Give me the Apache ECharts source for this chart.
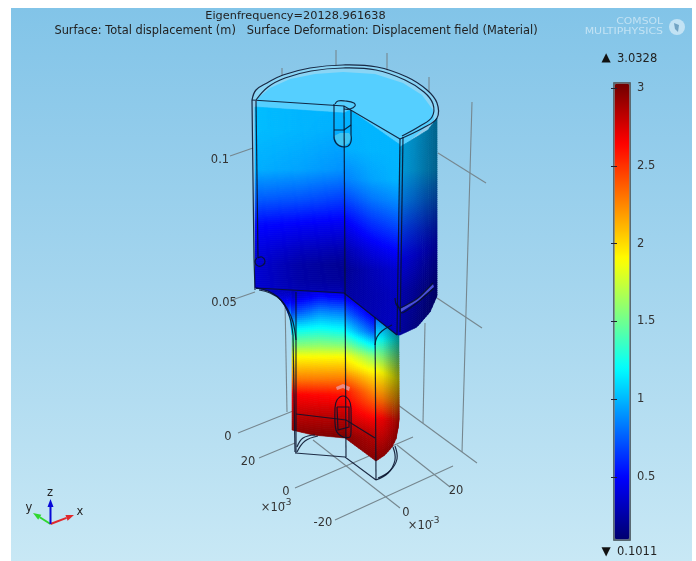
<!DOCTYPE html>
<html><head><meta charset="utf-8">
<script src="https://cdn.jsdelivr.net/npm/echarts@6/dist/echarts.min.js"></script>
<style>html,body{margin:0;padding:0;background:#fff}#c{width:696px;height:561px;filter:blur(0.45px)}</style></head>
<body><div id="c"></div>
<script>
const FONT='"DejaVu Sans"';
const titleLines=['Eigenfrequency=20128.961638','Surface: Total displacement (m)   Surface Deformation: Displacement field (Material)'];
const scaleMin=0.1011, scaleMax=3.0328;
const scaleTicks=[0.5,1,1.5,2,2.5,3];
const rampStops=[[0.1011,'#00006e'],[0.5,'#0000ff'],[1.2,'#00ffff'],[1.9,'#ffff00'],[2.65,'#ff0000'],[3.0328,'#700000']];

// grey 3D box lines
const boxLines=[
 [[230,156],[253,148]],[[232,300],[255,292]],
 [[282,68],[282,78]],[[336,50],[336,72]],[[387,53],[387,72]],[[429,77],[429,92]],
 [[472,102],[462,452]],[[425,323],[423,423]],
 [[438,153],[486,183]],[[437,298],[482,328]],[[398,405],[477,463]],
 [[285,300],[287,412]],
 [[238,433],[293,411]],[[259,458],[295,443]],[[295,488],[413,437]],[[335,520],[453,466]],
 [[313,440],[400,508]],[[397,445],[450,487]]
];
// coloured faces: outline from above and below, displacement read at xs / ys
const faces=[
 {name:'fillet',x:[256,292],top:[[256,288],[292,290]],bottom:[[256,288],[268,291],[278,297],[285,306],[290,318],[292,335]],
  xs:[256,292],ys:[289,297,313,330,345],vals:[[.3,.36,.6,1.1,1.5],[.3,.38,.7,1.2,1.55]],shade:[[256,1],[292,1]]},
 {name:'lowerLeft',x:[292,345],top:[[292,290],[345,293]],bottom:[[292,430],[313,435],[345,438]],
  xs:[292,320,345],ys:[289,297,313,330,345,357,380,395,415,438],
  vals:[[.3,.38,.7,1.2,1.55,1.9,2.3,2.65,2.82,3.0],[.4,.52,.9,1.25,1.58,1.9,2.3,2.63,2.82,3.0],[.35,.48,.85,1.2,1.55,1.9,2.3,2.6,2.82,3.0]],shade:[[292,.92],[298,1],[345,1]]},
 {name:'lowerRight',x:[345,376],top:[[345,293],[376,318]],bottom:[[345,438],[376,461]],
  xs:[345,376],ys:[293,315,332,347,357,370,378,392,423,438,461],
  vals:[[.35,.82,1.2,1.6,1.9,2.1,2.3,2.6,2.82,2.98,3.0],[.25,.4,.7,1.2,1.55,1.85,2.0,2.22,2.7,2.85,2.98]],shade:[[345,1],[376,1]]},
 {name:'lowerSide',x:[376,399],top:[[376,315],[399,335]],bottom:[[376,461],[385,455],[392,447],[397,437],[399,420]],
  xs:[376,399],ys:[315,337,373,400,420,460],vals:[[.7,1.15,1.95,2.35,2.7,2.98],[.9,1.15,1.8,2.2,2.6,2.9]],shade:[[376,1],[383,.92],[399,.55]]},
 {name:'upperLeft',x:[255,344],top:[[255,107],[344,113]],bottom:[[255,288],[344,293]],
  xs:[255,300,344],ys:[105,130,170,200,225,250,265,280,295],
  vals:[[1.02,1.02,.98,.75,.52,.42,.38,.38,.38],[1.0,1.0,.95,.72,.48,.33,.26,.26,.3],[1.0,.98,.9,.66,.45,.28,.2,.22,.3]],shade:[[255,1],[344,1]]},
 {name:'upperRight',x:[344,400],top:[[344,113],[350,110],[403,147]],bottom:[[344,293],[397,335],[400,335]],
  xs:[344,372,400],ys:[110,150,180,200,225,250,270,295,335],
  vals:[[1.0,.98,.85,.68,.45,.28,.2,.24,.3],[1.0,1.0,.95,.82,.62,.42,.3,.28,.3],[1.0,1.0,1.0,.9,.72,.52,.38,.33,.33]],shade:[[344,1],[400,1]]},
 {name:'side',x:[400,437],top:[[400,147],[415,138],[428,130],[437,118]],bottom:[[400,335],[417,327],[430,312],[437,296]],
  xs:[400,437],ys:[118,170,200,230,260,290,335],vals:[[1.02,1.0,.88,.68,.5,.36,.3],[1.0,.98,.78,.58,.42,.3,.22]],shade:[[400,.85],[415,.75],[437,.55]]}
];
// flat fills behind / above the coloured faces
const rimFill=[[252,100],[256,90],[267,83],[283,75],[310,68],[343,65],[377,67],[407,77],[427,90],[437,103],[437,118],[423,128],[400,139],[344,106]];
const topFill=[[255,107],[258,98],[270,88],[290,79],[315,74],[343,72],[375,74],[403,83],[422,95],[433,110],[434,120],[422,130],[403,147],[350,110],[344,113]];
const detailFills=[
 {pts:[[334,136],[340,133],[349,133],[351,136],[349,143],[344,146],[338,145]],fill:'#3fc4f2'},
 {pts:[[336,387],[343,384],[350,387],[349,391],[343,388],[337,390]],fill:'#f08a80'},
 {pts:[[400,309],[418,298],[433,284],[434,287],[418,301],[401,312]],fill:'#4a50d8'}
];
// black mesh edges
const wires=[
 {p:[[252,100],[256,90],[267,83],[283,75],[310,68],[343,65],[377,67],[407,77],[427,90],[437,103],[437,118],[423,128],[400,139]],s:.4},
 {p:[[256,100],[268,87],[285,78],[311,71],[343,68],[376,70],[405,80],[424,92],[433,104],[432,117],[420,126],[402,136]],s:.4},
 {p:[[252,100],[344,106],[400,139]]},
 {p:[[252,100],[254,258],[255,290]]},{p:[[256,101],[258,258]]},
 {p:[[344,106],[346,457]]},
 {p:[[335,104],[338,101],[345,101],[354,103],[355,106],[350,109],[344,109]],s:.4},
 {p:[[334,104],[334,135]]},{p:[[351,110],[351,135]]},
 {p:[[334,135],[336,143],[344,147],[350,144],[351,135]],s:.5},
 {p:[[334,130],[344,130],[351,125]]},
 {p:[[400,139],[397,335]]},{p:[[403,137],[400,332]]},
 {p:[[256,288],[344,293],[397,335]]},
 {p:[[257,258],[255,262],[258,266],[263,265],[265,261],[262,257],[258,258]],s:.5},
 {p:[[395,298],[396,304],[400,308],[418,298],[433,283]],s:.2},
 {p:[[397,303],[402,313],[418,302],[434,288]],s:.2},
 {p:[[256,288],[268,291],[278,297],[285,306],[290,318],[293,335]],s:.4},
 {p:[[259,290],[270,293],[281,300],[288,310],[293,322],[296,340]],s:.4},
 {p:[[296,292],[296,453]]},{p:[[293,335],[295,452]]},
 {p:[[375,317],[376,480]]},
 {p:[[375,345],[377,337],[382,331],[392,325]],s:.4},
 {p:[[296,414],[346,420],[375,438]]},
 {p:[[295,453],[345,457],[376,480]]},
 {p:[[376,480],[388,473],[395,460],[393,447]],s:.4},{p:[[378,478],[390,471],[397,459],[395,446]],s:.4},
 {p:[[297,447],[303,438],[315,435]],s:.4},{p:[[297,452],[305,441],[318,436]],s:.4},
 {p:[[335,408],[337,400],[343,396],[349,400],[351,408]],s:.4},
 {p:[[335,408],[336,430],[343,437],[350,437],[351,432],[351,408]],s:.3},
 {p:[[337,407],[349,407],[349,427],[338,430],[337,407]]}
];
// triad
const triadOrigin=[50.5,524];
const triadAxes=[{tip:[33,513],color:'#2fd82f'},{tip:[74,515],color:'#e0282c'},{tip:[50.5,499],color:'#0808d8'}];
// all text: x, y, string, size, colour, anchor, horizontal stretch
const texts=[
 [295.5,16,titleLines[0],11.3,'#222','center',1],
 [296,31,titleLines[1],11.4,'#222','center',1],
 [220,160,'0.1',11.5,'#333','center',1],[224,303,'0.05',11.5,'#333','center',1],
 [228,437,'0',11.5,'#333','center',1],[248,462,'20',11.5,'#333','center',1],
 [286,492,'0',11.5,'#333','center',1],[273,508,'×10',11.5,'#333','center',1],[287,503,'-3',9,'#333','center',1],
 [456,491,'20',11.5,'#333','center',1],[323,523,'-20',11.5,'#333','center',1],
 [406,513,'0',11.5,'#333','center',1],[420,526,'×10',11.5,'#333','center',1],[435,521,'-3',9,'#333','center',1],
 [50,493,'z',11.5,'#222','center',1],[80,512,'x',11.5,'#222','center',1],[29,508,'y',11.5,'#222','center',1],
 [606,58,'▲',12,'#111','center',1],[617,59,'3.0328',11.5,'#222','left',1],
 [606,552,'▼',12,'#111','center',1],[617,552,'0.1011',11.5,'#222','left',1],
 [663,22,'COMSOL',8,'rgba(255,255,255,0.5)','right',1.35],[663,32,'MULTIPHYSICS',8,'rgba(255,255,255,0.5)','right',1.37]
];

const hex=c=>[1,3,5].map(i=>parseInt(c.substr(i,2),16));
function rampColor(v){
 for(let i=1;i<rampStops.length;i++){ if(v<=rampStops[i][0]){
  const a=rampStops[i-1],b=rampStops[i],t=(v-a[0])/(b[0]-a[0]),A=hex(a[1]),B=hex(b[1]);
  return 'rgb('+A.map((q,k)=>Math.round(q+(B[k]-q)*t)).join(',')+')';}}
 return rampStops[rampStops.length-1][1];
}
const ramp=[];for(let i=0;i<=60;i++)ramp.push(rampColor(scaleMin+(scaleMax-scaleMin)*i/60));
function along(line,x){
 if(x<=line[0][0])return line[0][1];
 for(let i=1;i<line.length;i++) if(x<=line[i][0]){const a=line[i-1],b=line[i];return a[1]+(b[1]-a[1])*(x-a[0])/((b[0]-a[0])||1);}
 return line[line.length-1][1];
}
function cell(arr,v){let i=0;while(i<arr.length-2&&v>arr[i+1])i++;return [i,Math.max(0,Math.min(1,(v-arr[i])/(arr[i+1]-arr[i])))];}
function fieldAt(f,x,y){
 const [i,s]=cell(f.xs,x),[j,t]=cell(f.ys,y),a=f.vals[i],b=f.vals[i+1];
 return (a[j]*(1-t)+a[j+1]*t)*(1-s)+(b[j]*(1-t)+b[j+1]*t)*s;
}
// shading cells that carry each face's table to the library's visual map
const meshCells=[];
faces.forEach(f=>{
 for(let x=f.x[0];x<f.x[1];x+=2){
  const x2=Math.min(x+2,f.x[1]),tA=along(f.top,x),bA=along(f.bottom,x),tB=along(f.top,x2),bB=along(f.bottom,x2);
  const n=Math.max(1,Math.ceil(Math.max(bA-tA,bB-tB)/2));
  for(let r=0;r<n;r++){
   const u=r/n,w=(r+1)/n,ym=(tA+tB)/2+((bA+bB)/2-(tA+tB)/2)*(u+w)/2;
   meshCells.push([x,x2,tA+(bA-tA)*u,tA+(bA-tA)*w,tB+(bB-tB)*u,tB+(bB-tB)*w,
     Math.max(scaleMin,Math.min(scaleMax,fieldAt(f,(x+x2)/2,ym))),along(f.shade,(x+x2)/2)]);
  }
 }
});

const chart=echarts.init(document.getElementById('c'),null,{renderer:'canvas'});
const P=(api,p)=>api.coord(p);
function polyFill(pts,fill,api,extra){return Object.assign({type:'polygon',shape:{points:pts.map(p=>P(api,p))},style:{fill:fill,stroke:null}},extra||{});}
const idx=a=>a.map((_,i)=>[0,0,i]);
const base={type:'custom',xAxisIndex:0,yAxisIndex:0,coordinateSystem:'cartesian2d',silent:true,clip:false,animation:false,progressive:0};

const option={
 animation:false,
 grid:[
  {left:11,top:8,width:681,height:553,show:true,borderWidth:0,
   backgroundColor:new echarts.graphic.LinearGradient(0,0,0,1,[{offset:0,color:'#82c4e8'},{offset:.5,color:'#a4d5ee'},{offset:1,color:'#c8e8f5'}])},
  {left:614,top:83,width:15,height:456,show:false}
 ],
 xAxis:[
  {type:'value',min:11,max:692,show:false,gridIndex:0},
  {type:'value',min:0,max:1,show:false,gridIndex:1}
 ],
 yAxis:[
  {type:'value',min:8,max:561,inverse:true,show:false,gridIndex:0},
  {type:'value',gridIndex:1,position:'right',min:scaleMin,max:scaleMax,z:12,
   axisLine:{show:false},splitLine:{show:false},
   axisTick:{show:true,inside:true,length:3,customValues:scaleTicks,lineStyle:{color:'#223',width:1}},
   axisLabel:{show:true,customValues:scaleTicks,margin:8,fontFamily:FONT,fontSize:11.5,color:'#333',formatter:v=>String(v)}},
  {type:'value',gridIndex:1,position:'left',min:scaleMin,max:scaleMax,z:12,
   axisLine:{show:false},splitLine:{show:false},axisLabel:{show:false},
   axisTick:{show:true,inside:true,length:3,customValues:scaleTicks,lineStyle:{color:'#223',width:1}}}
 ],
 visualMap:[{type:'continuous',seriesIndex:2,dimension:6,min:scaleMin,max:scaleMax,calculable:false,hoverLink:false,
   left:613,top:82,itemWidth:15,itemHeight:456,padding:1,borderWidth:1,borderColor:'#5a6a72',backgroundColor:'#5a6a72',
   text:null,inRange:{color:ramp}}],
 series:[
  Object.assign({},base,{name:'box',z:2,data:idx(boxLines),encode:{x:0,y:1},
   renderItem:(p,api)=>({type:'polyline',shape:{points:boxLines[api.value(2)].map(q=>P(api,q))},style:{stroke:'#76878f',lineWidth:1.1,fill:null}})}),
  Object.assign({},base,{name:'top',z:3,data:[[0,0,0]],encode:{x:0,y:1},
   renderItem:(p,api)=>({type:'group',children:[polyFill(rimFill,'#8ad5f5',api),polyFill(topFill,'#55cfff',api)]})}),
  Object.assign({},base,{name:'mesh',z:4,data:meshCells,encode:{x:0,y:2},
   renderItem:(p,api)=>{
    const c=echarts.color.parse(api.visual('color')),s=api.value(7);
    const col='rgb('+Math.round(c[0]*s)+','+Math.round(c[1]*s)+','+Math.round(c[2]*s)+')';
    const a=api.coord([api.value(0),api.value(2)]),b=api.coord([api.value(0),api.value(3)]),
          d=api.coord([api.value(1),api.value(4)]),e=api.coord([api.value(1),api.value(5)]);
    return {type:'polygon',shape:{points:[a,d,e,b]},style:{fill:col,stroke:col,lineWidth:.6}};
   }}),
  Object.assign({},base,{name:'details',z:5,data:idx(detailFills),encode:{x:0,y:1},
   renderItem:(p,api)=>{const d=detailFills[api.value(2)];return polyFill(d.pts,d.fill,api);}}),
  Object.assign({},base,{name:'wires',z:6,data:idx(wires),encode:{x:0,y:1},
   renderItem:(p,api)=>{const w=wires[api.value(2)];return {type:'polyline',shape:{points:w.p.map(q=>P(api,q)),smooth:w.s||0},style:{stroke:'#08122c',lineWidth:1.2,opacity:.88,fill:null}};}}),
  Object.assign({},base,{name:'triad',z:7,data:idx(triadAxes),encode:{x:0,y:1},
   renderItem:(p,api)=>{const t=triadAxes[api.value(2)],o=P(api,triadOrigin),e=P(api,t.tip);
    const dx=e[0]-o[0],dy=e[1]-o[1],L=Math.hypot(dx,dy),ux=dx/L,uy=dy/L,hx=e[0]-ux*8,hy=e[1]-uy*8;
    return {type:'group',children:[
     {type:'line',shape:{x1:o[0],y1:o[1],x2:hx,y2:hy},style:{stroke:t.color,lineWidth:2}},
     {type:'polygon',shape:{points:[e,[hx-uy*3,hy+ux*3],[hx+uy*3,hy-ux*3]]},style:{fill:t.color}}]};}}),
  Object.assign({},base,{name:'logo',z:7,data:[[677,27]],encode:{x:0,y:1},
   renderItem:(p,api)=>{const c=api.coord([677,27]);return {type:'group',children:[
     {type:'circle',shape:{cx:c[0],cy:c[1],r:8},style:{fill:'rgba(255,255,255,0.5)'}},
     {type:'polygon',shape:{points:[[c[0]-3,c[1]-4],[c[0]+2,c[1]-2],[c[0]+1,c[1]+5],[c[0]-2,c[1]+2]]},style:{fill:'rgba(70,130,170,0.65)'}}]};}}),
  Object.assign({},base,{name:'text',z:8,data:idx(texts),encode:{x:0,y:1},
   renderItem:(p,api)=>{const t=texts[api.value(2)],c=P(api,[t[0],t[1]]);
    return {type:'text',x:c[0],y:c[1],scaleX:t[6],style:{text:t[2],font:t[3]+'px '+FONT,fill:t[4],align:t[5],verticalAlign:'middle'}};}})
 ]
};
chart.setOption(option);
</script></body></html>
